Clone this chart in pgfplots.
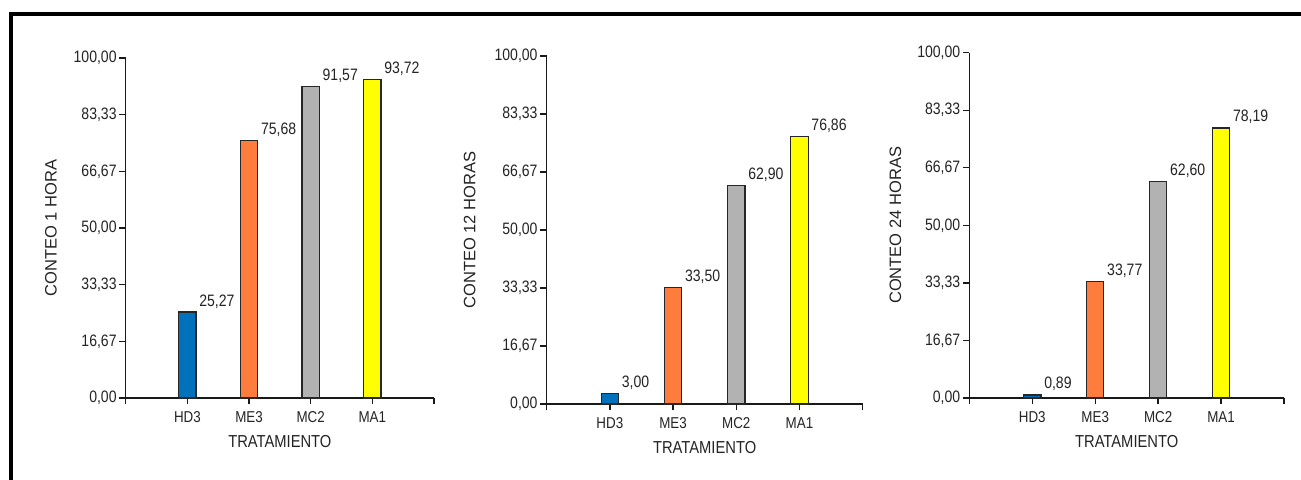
\documentclass[border=0pt]{standalone}
\usepackage{fontspec}
\setmainfont{Liberation Sans}[FakeStretch=0.85]
\newfontfamily\ylabfont{Liberation Sans}
\usepackage{pgfplots}
\pgfplotsset{compat=1.18}
\definecolor{cblue}{RGB}{0,114,188}
\definecolor{corange}{RGB}{255,125,60}
\definecolor{cgray}{RGB}{178,178,178}
\definecolor{cyellow}{RGB}{255,255,0}
\definecolor{txt}{RGB}{35,35,35}
\pgfplotsset{
  panel/.style={
    scale only axis,
    anchor=south west,
    xmin=0, xmax=5, ymin=0, ymax=100,
    axis x line=bottom, axis y line=left,
    axis line style={-, line width=1pt, black!90},
    tick style={line width=1pt, black!90},
    major tick length=4.8pt,
    tick align=outside,
    xtick={1,2,3,4},
    xticklabels={HD3,ME3,MC2,MA1},
    extra x ticks={0,5}, extra x tick labels={},
    extra x tick style={tick style={line width=1pt, black!90}},
    ytick={0,16.67,33.33,50,66.67,83.33,100},
    /pgf/number format/.cd, fixed, fixed zerofill, precision=2, use comma, assume math mode=true,
    /pgfplots/.cd,
    xticklabel style={font=\fontsize{11.8}{13}\selectfont, text=txt, yshift=-2pt},
    yticklabel style={font=\fontsize{12.4}{14}\selectfont, text=txt, xshift=1.5pt},
    xlabel={TRATAMIENTO},
    xlabel style={at={(axis description cs:0.5,0)}, anchor=center, yshift=-33pt, font=\fontsize{13}{14}\selectfont, text=txt},
    clip=false,
    nodes near coords,
    point meta=explicit symbolic,
    every node near coord/.append style={anchor=base west, xshift=5.2pt, yshift=4.5pt, font=\fontsize{12.4}{14}\selectfont, text=txt},
  },
  bar/.style={ybar, bar shift=0pt, bar width=13pt, draw=black!85, line width=0.9pt, fill=#1},
}
\begin{document}
\begin{tikzpicture}
\path[use as bounding box] (0,0) rectangle (975.75pt,359.25pt);
\draw[line width=3pt, line join=miter, black] (8.25pt,-5pt) -- (8.25pt,349.1pt) -- (980pt,349.1pt);

\begin{axis}[panel, at={(94.3pt,60.75pt)}, width=231.2pt, height=255pt,
  ylabel={CONTEO 1 HORA},
  ylabel style={at={(axis description cs:-0.243,0.5)}, anchor=center, font=\ylabfont\fontsize{12.4}{14}\selectfont, text=txt}]
\addplot[bar=cblue] coordinates {(1,25.27) [25,27]};
\addplot[bar=corange] coordinates {(2,75.68) [75,68]};
\addplot[bar=cgray] coordinates {(3,91.57) [91,57]};
\addplot[bar=cyellow] coordinates {(4,93.72) [93,72]};
\end{axis}

\begin{axis}[panel, at={(410pt,56.25pt)}, width=237pt, height=261pt,
  ylabel={CONTEO 12 HORAS},
  ylabel style={at={(axis description cs:-0.244,0.5)}, anchor=center, font=\ylabfont\fontsize{12.4}{14}\selectfont, text=txt}]
\addplot[bar=cblue] coordinates {(1,3.00) [3,00]};
\addplot[bar=corange] coordinates {(2,33.50) [33,50]};
\addplot[bar=cgray] coordinates {(3,62.90) [62,90]};
\addplot[bar=cyellow] coordinates {(4,76.86) [76,86]};
\end{axis}

\begin{axis}[panel, at={(727pt,60.75pt)}, width=236pt, height=259pt,
  ylabel={CONTEO 24 HORAS},
  ylabel style={at={(axis description cs:-0.235,0.5)}, anchor=center, font=\ylabfont\fontsize{12.4}{14}\selectfont, text=txt}]
\addplot[bar=cblue] coordinates {(1,0.89) [0,89]};
\addplot[bar=corange] coordinates {(2,33.77) [33,77]};
\addplot[bar=cgray] coordinates {(3,62.60) [62,60]};
\addplot[bar=cyellow] coordinates {(4,78.19) [78,19]};
\end{axis}
\end{tikzpicture}
\end{document}
